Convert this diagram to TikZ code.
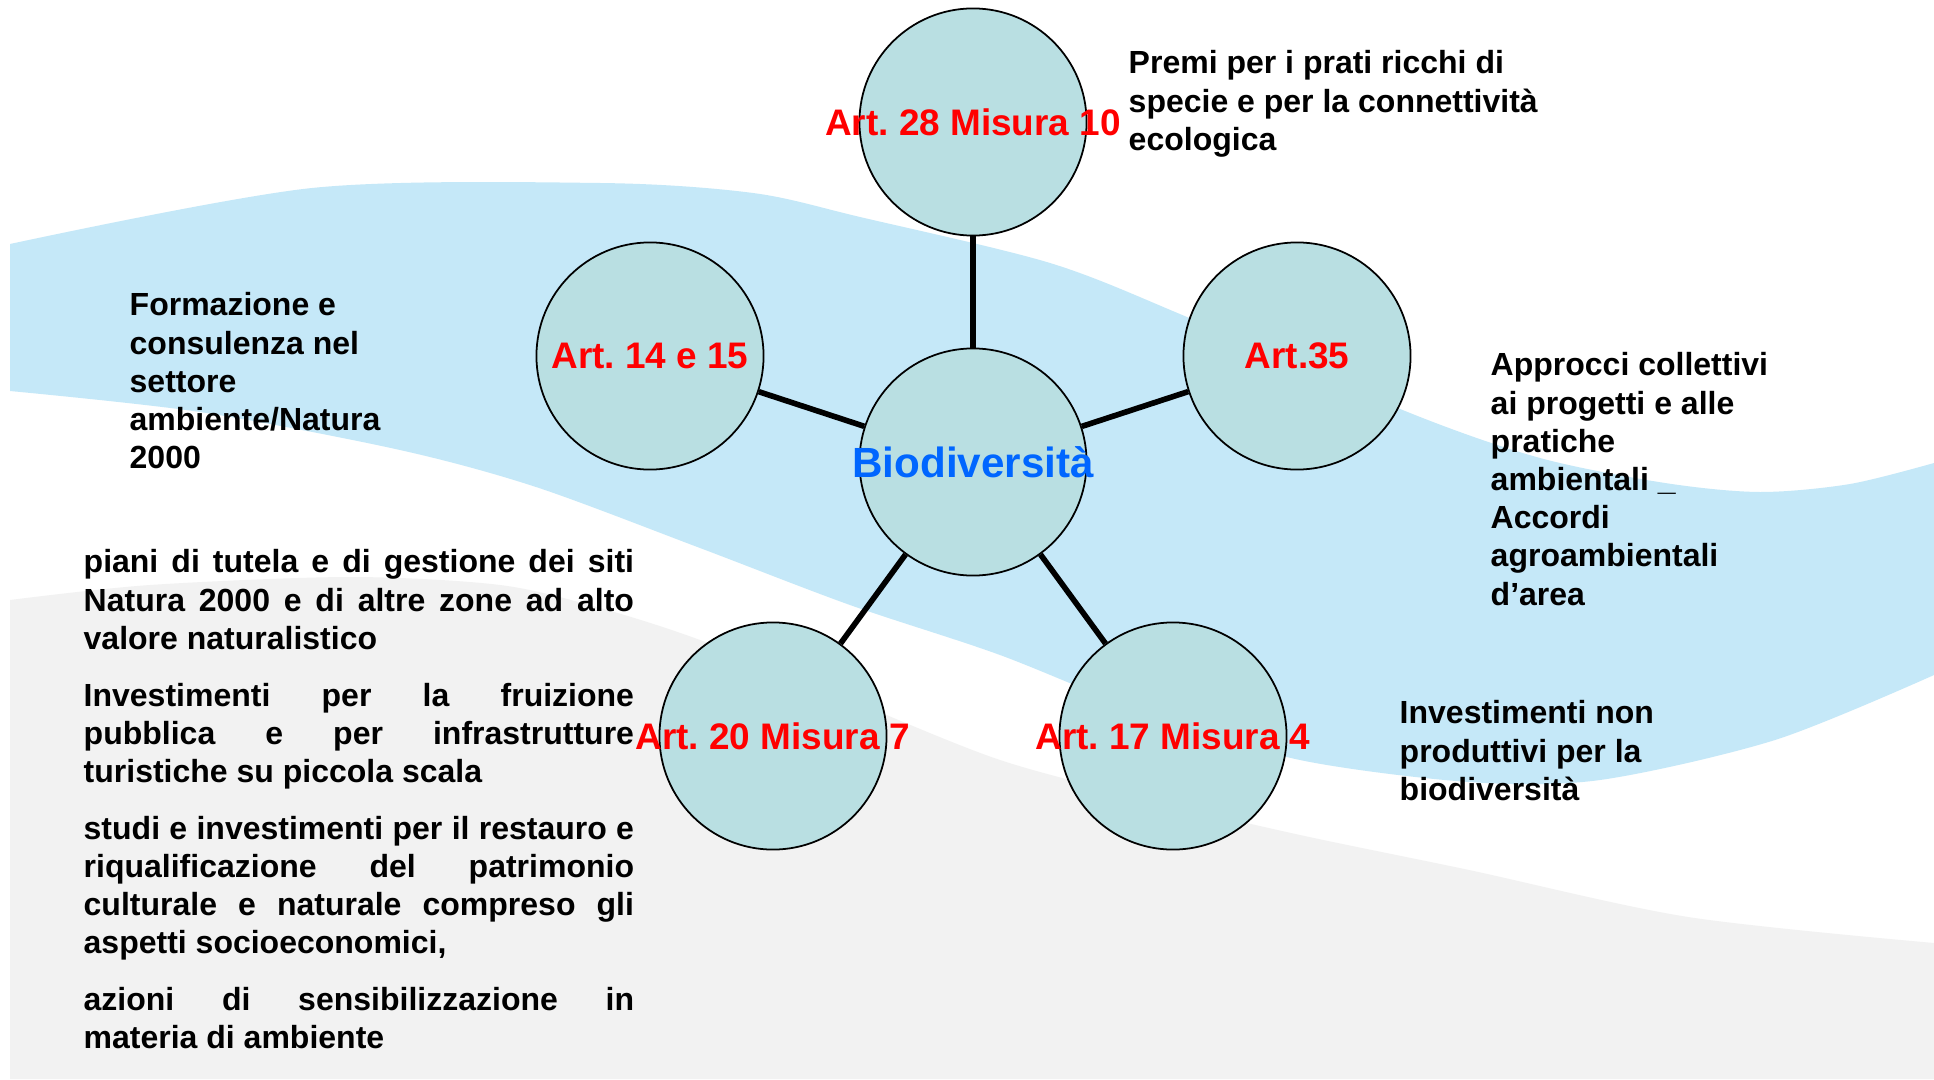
\documentclass[tikz,border=0pt]{standalone}
\usepackage{fontspec}
\setmainfont{Liberation Sans}

\definecolor{wavesky}{RGB}{197,232,248}
\definecolor{wavegrey}{RGB}{242,242,242}
\definecolor{ballfill}{RGB}{185,223,226}
\definecolor{artred}{RGB}{255,0,0}
\definecolor{bioblue}{RGB}{0,102,255}

\newcommand{\topstrut}{\rule{0pt}{8pt}}
\frenchspacing

\begin{document}
\begin{tikzpicture}[x=0.01cm, y=-0.01cm,
    ball/.style={circle, draw=black, line width=0.5pt, fill=ballfill, minimum size=2.27cm, inner sep=0pt},
    artlabel/.style={ball, text=artred, font=\fontsize{10.5}{12}\selectfont\bfseries},
    link/.style={line width=1.6pt},
    note/.style={anchor=north west, inner sep=0pt, align=left, font=\fontsize{9.1}{10.87}\selectfont\bfseries}]

    \useasboundingbox (0,0) rectangle (1934,1079);

    % Background waves
    \fill[white] (0,0) rectangle (1934,1079);
    \fill[wavegrey] plot[smooth] coordinates {(10,600) (150,585) (350,577) (500,585) (600,608) (700,640) (850,700) (1000,760) (1150,800) (1300,835) (1469,870) (1688,917) (1934,943)}
        -- (1934,1079) -- (10,1079) -- cycle;
    \fill[wavesky] plot[smooth] coordinates {(10,244) (312,188) (600,183) (753,193) (860,217) (1050,263) (1187,317) (1410,413) (1540,458) (1665,483) (1760,492) (1850,484) (1934,463)}
        -- plot[smooth] coordinates {(1934,675) (1775,740) (1600,780) (1469,782) (1300,760) (1150,715) (1000,655) (850,605) (700,548) (536,487) (400,450) (200,412) (10,391)} -- cycle;

    % The centre and the five articles
    \node[ball, text=bioblue, font=\fontsize{12}{14}\selectfont\bfseries] (bio) at (973,462) {\makebox[0pt]{Biodiversità}};
    \node[artlabel] (art28) at (973,122) {\makebox[0pt]{Art. 28 Misura 10}};
    \node[artlabel] (art14) at (650,356) {\makebox[0pt]{Art. 14 e 15}};
    \node[artlabel] (art35) at (1297,356) {\makebox[0pt]{Art.35}};
    \node[artlabel] (art20) at (773,736) {\makebox[0pt]{Art. 20 Misura 7}};
    \node[artlabel] (art17) at (1173,736) {\makebox[0pt]{Art. 17 Misura 4}};

    % Spokes
    \foreach \art in {art28, art14, art35, art20, art17}
        \draw[link] (bio) -- (\art);

    % Notes next to the articles
    \node[note] (premi) at (1128,45) {\topstrut Premi per i prati ricchi di\\specie e per la connettività\\ecologica};
    \node[note] (formaz) at (129,287) {\topstrut Formazione e\\consulenza nel\\settore\\ambiente/Natura\\2000};
    \node[note] (approcci) at (1490,347) {\topstrut Approcci collettivi\\ai progetti e alle\\pratiche\\ambientali \_\\Accordi\\agroambientali\\d’area};
    \node[note] (invest) at (1399,695) {\topstrut Investimenti non\\produttivi per la\\biodiversità};

    % Justified list on the left
    \node[note, align=justify, text width=5.5cm] (piani) at (83,544) {%
        \parindent=0pt \parskip=5.26pt \tolerance=10000 \hbadness=10000
        \topstrut piani di tutela e di gestione dei siti\linebreak Natura 2000 e di altre zone ad alto\linebreak valore naturalistico\par
        Investimenti per la fruizione\linebreak pubblica e per infrastrutture\linebreak turistiche su piccola scala\par
        studi e investimenti per il restauro e\linebreak riqualificazione del patrimonio\linebreak culturale e naturale compreso gli\linebreak aspetti socioeconomici,\par
        azioni di sensibilizzazione in\linebreak materia di ambiente};

\end{tikzpicture}
\end{document}
